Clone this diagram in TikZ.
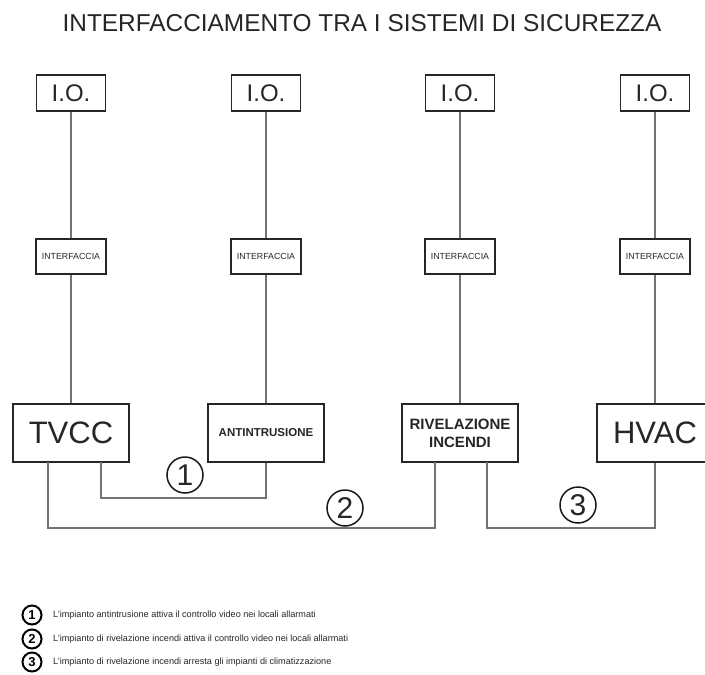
\documentclass[tikz,border=0pt]{standalone}
\usepackage{fontspec}
\setmainfont{Liberation Sans}
\begin{document}
\begin{tikzpicture}[x=1pt,y=-1pt,
  box/.style={draw=black!85,line width=1.8pt,fill=white,inner sep=0pt,text=black!85},
  iobox/.style={box,minimum width=69pt,minimum height=36pt,font=\fontsize{24}{24}\selectfont},
  ifbox/.style={box,minimum width=70pt,minimum height=35pt,font=\fontsize{8.8}{9}\selectfont},
  sysbox/.style={box,minimum width=116pt,minimum height=58pt},
  conn/.style={draw=black!55,line width=1.2pt},
  num/.style={circle,draw=black!90,line width=1.5pt,minimum size=36pt,inner sep=0pt,font=\fontsize{30}{30}\selectfont,text=black!85},
  lnum/.style={circle,draw=black,line width=2pt,minimum size=19pt,inner sep=0pt,font=\bfseries\fontsize{13}{13}\selectfont},
  ltext/.style={anchor=west,inner sep=0pt,font=\fontsize{9.1}{10}\selectfont,text=black!85}]
\useasboundingbox (0,0) rectangle (705,675);
\clip (0,0) rectangle (705,675);

\node[anchor=base,inner sep=0pt,font=\fontsize{24.4}{25}\selectfont,text=black!85] (title) at (362,31) {INTERFACCIAMENTO TRA I SISTEMI DI SICUREZZA};

% columns
\foreach \i/\x in {1/71,2/266,3/460,4/655}{
  \node[iobox] (io\i) at (\x,93) {I.O.};
  \node[ifbox] (if\i) at (\x,256.5) {INTERFACCIA};
}
\node[sysbox,font=\fontsize{31}{31}\selectfont] (tvcc) at (71,433) {TVCC};
\node[sysbox,font=\bfseries\fontsize{11.5}{12}\selectfont] (anti) at (266,433) {ANTINTRUSIONE};
\node[sysbox,font=\bfseries\fontsize{15}{18}\selectfont,align=center] (riv) at (460,433) {RIVELAZIONE\\INCENDI};
\node[sysbox,font=\fontsize{31}{31}\selectfont] (hvac) at (655,433) {HVAC};

\foreach \i/\s in {1/tvcc,2/anti,3/riv,4/hvac}{
  \draw[conn] (io\i) -- (if\i);
  \draw[conn] (if\i) -- (\s);
}

% interface connectors
\coordinate (a1) at (101,462);
\coordinate (b1) at (101,498);
\draw[conn] (a1) -- (b1) -| (anti.south);
\coordinate (a2) at (48,462);
\coordinate (b2) at (48,528);
\coordinate (c2) at (435,462);
\draw[conn] (a2) -- (b2) -| (c2);
\coordinate (a3) at (487,462);
\coordinate (b3) at (487,528);
\draw[conn] (a3) -- (b3) -| (hvac.south);

\node[num] (n1) at (185,475) {1};
\node[num] (n2) at (345,508) {2};
\node[num] (n3) at (578,505) {3};

% legend
\node[lnum] (l1) at (32,615) {1};
\node[lnum] (l2) at (32,639) {2};
\node[lnum] (l3) at (32,662) {3};
\node[ltext] (t1) at (53,615) {L'impianto antintrusione attiva il controllo video nei locali allarmati};
\node[ltext] (t2) at (53,639) {L'impianto di rivelazione incendi attiva il controllo video nei locali allarmati};
\node[ltext] (t3) at (53,662) {L'impianto di rivelazione incendi arresta gli impianti di climatizzazione};
\end{tikzpicture}
\end{document}
